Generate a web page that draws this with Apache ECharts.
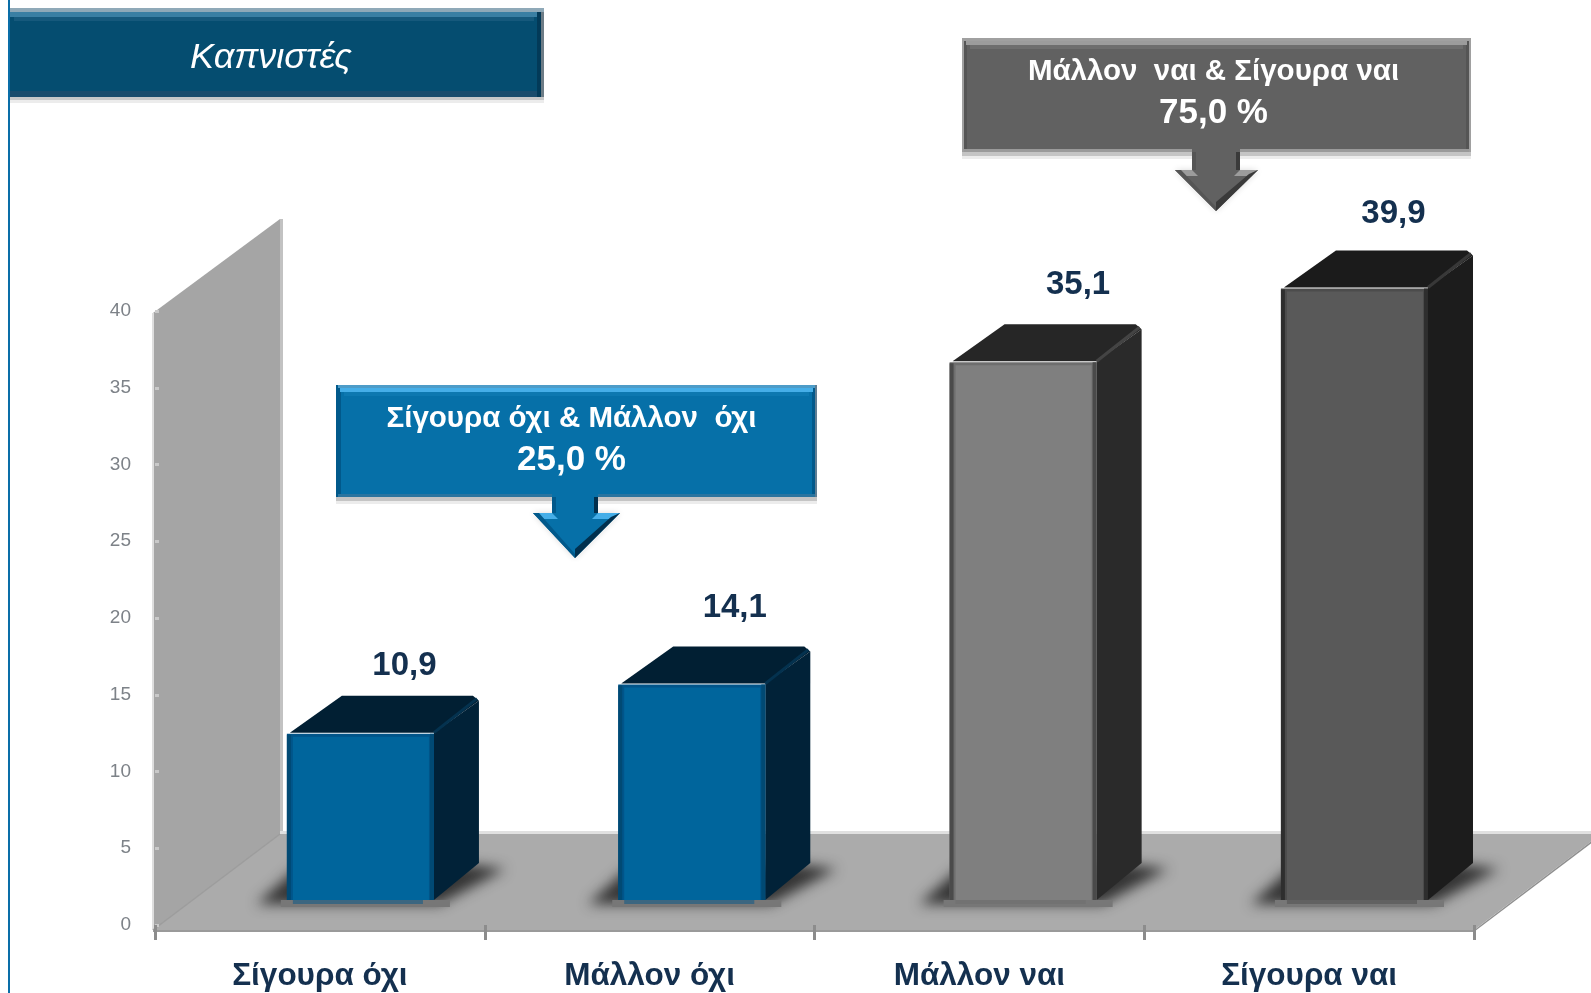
<!DOCTYPE html>
<html>
<head>
<meta charset="utf-8">
<style>html,body{margin:0;padding:0;background:#fff;overflow:hidden}#c{width:1591px;height:993px}</style>
<script src="https://cdn.jsdelivr.net/npm/echarts@6/dist/echarts.min.js"></script>
</head>
<body>
<div id="c"></div>
<script>
const categories = ['Σίγουρα όχι', 'Μάλλον όχι', 'Μάλλον ναι', 'Σίγουρα ναι'];
const values = [10.9, 14.1, 35.1, 39.9];
const yTicks = [0, 5, 10, 15, 20, 25, 30, 35, 40];
const chartTitle = 'Καπνιστές';
const groupLow = ['Σίγουρα όχι & Μάλλον  όχι', '25,0 %'];
const groupHigh = ['Μάλλον  ναι & Σίγουρα ναι', '75,0 %'];

// layout (kept apart from the data)
const labelNudgeX = [44, 43, 55, 39];
const labelNudgeY = [-67, -76, -76, -74];
const faceColors = [
  {front:'#00659c', edge:'#01558a', dark:'#012238', top:'#011f33', line:'#04324f', rim:'#014a74'},
  {front:'#00659c', edge:'#01558a', dark:'#012238', top:'#011f33', line:'#04324f', rim:'#014a74'},
  {front:'#7f7f7f', edge:'#6e6e6e', dark:'#2a2a2a', top:'#262626', line:'#444444', rim:'#4a4a4a'},
  {front:'#595959', edge:'#4c4c4c', dark:'#1c1c1c', top:'#1b1b1b', line:'#383838', rim:'#2e2e2e'}
];
const DX = 45, DY = 37, BASE_LIFT = 25, FAR = 4000, FONT = '"Liberation Sans", Arial, sans-serif';

function poly(points, fill, extra) {
  return {type:'polygon', silent:true, shape:{points}, style:Object.assign({fill}, extra||{})};
}
function rect(x, y, width, height, fill, extra) {
  return {type:'rect', silent:true, shape:{x, y, width, height}, style:Object.assign({fill}, extra||{})};
}

function renderFrame(params) {
  const c = params.coordSys, L = c.x - 2, R = c.x + c.width, T = c.y + 2, B = c.y + c.height + 5;
  const bx = 127, by = 96;
  return {type:'group', children:[
    poly([[L,T],[L+bx,T-by+2],[L+bx,B-by],[L,B]], '#a5a5a5'),
    rect(L-1, T, 2, B-T, '#dedede'),
    rect(L+bx, T-by+2, 3, B-T-4, '#c2c2c2'),
    rect(L+bx, B-by-3, 1600, 3, '#e0e0e0'),
    poly([[L,B],[L+bx,B-by],[R+bx,B-by],[R,B]], '#ababab'),
    rect(L, B, R-L, 2, '#9a9a9a'),
    {type:'line', silent:true, shape:{x1:L,y1:B,x2:L+bx,y2:B-by}, style:{stroke:'#9c9c9c',lineWidth:1.5}},
    {type:'line', silent:true, shape:{x1:R,y1:B+1,x2:R+bx,y2:B-by+1}, style:{stroke:'#8f8f8f',lineWidth:1.5}}
  ]};
}
function barGeom(params, api) {
  const i = api.value(0), v = api.value(1);
  const c = api.coord([i, 0]), t = api.coord([i, v]);
  const w = api.size([1, 0])[0] * 0.446;
  const X = c[0] - 30.6 + (i - 1.5) * 1.6;
  return {i, v, w, X, yb: c[1] - BASE_LIFT, yt: t[1] - BASE_LIFT};
}
function renderShadow(params, api) {
  const g = barGeom(params, api), X = g.X, y = g.yb, w = g.w;
  // only the blurred cast of an off-canvas shape reaches the picture
  const pts = [[X-30,y+4],[X+w+6,y+4],[X+w+DX+26,y-DY+6],[X+w+DX-6,y-DY+2],[X+8,y-30]].map(p => [p[0]-FAR, p[1]]);
  return {type:'group', children:[
    poly(pts, '#000', {shadowBlur:13, shadowOffsetX:FAR, shadowColor:'rgba(45,45,45,0.95)'}),
    rect(X-6, y, w+22, 7, '#777777')
  ]};
}
function renderBar(params, api) {
  const g = barGeom(params, api), X = g.X, w = g.w, yb = g.yb, yt = g.yt, col = faceColors[g.i];
  return {type:'group', children:[
    poly([[X+w,yt],[X+w+DX,yt-DY+5],[X+w+DX,yb-DY],[X+w,yb]], col.dark),
    poly([[X+3,yt],[X+DX+10,yt-DY],[X+w+DX-6,yt-DY],[X+w+DX,yt-DY+5],[X+w,yt]], col.top),
    {type:'line', silent:true, shape:{x1:X+w,y1:yt,x2:X+w+DX-2,y2:yt-DY+3}, style:{stroke:col.line,lineWidth:3}},
    rect(X, yt+1, w, yb-yt-1, col.edge),
    rect(X, yt+2, 4, yb-yt-2, col.rim),
    rect(X+w-4, yt+1, 4, yb-yt-1, col.rim),
    rect(X+6, yt+4, w-11, yb-yt-4, col.front),
    rect(X+6, yb, w-17, 4, col.edge, {opacity:0.5})
  ]};
}
function renderValueLabel(params, api) {
  const g = barGeom(params, api);
  return {type:'text', silent:true, style:{
    text: String(g.v).replace('.', ','),
    x: g.X + g.w/2 + labelNudgeX[g.i],
    y: g.yt + labelNudgeY[g.i],
    font: 'bold 33px ' + FONT, fill:'#14304f', align:'center', verticalAlign:'middle'
  }};
}

function callout(box, arrow, lines, pal) {
  const w = box.x1 - box.x0, h = box.y1 - box.y0, cx = (box.x0 + box.x1)/2 + box.textShift;
  const a = arrow;
  return [
    rect(box.x0, box.y1, w, 4, '#c4c4c4'),
    rect(box.x0, box.y1+4, w, 3, '#ececec'),
    rect(box.x0, box.y0, w, h, pal.border),
    rect(box.x0+5, box.y0+6, w-10, h-9, pal.main),
    rect(box.x0, box.y0, w, 3, pal.rim),
    rect(box.x0+4, box.y0+3, w-8, 4, pal.light),
    rect(box.x0+8, box.y0+7, w-16, 4, pal.soft),
    rect(box.x0, box.y1-3, w, 3, pal.bottom),
    rect(box.x1-2, box.y0, 2, h, pal.side),
    rect(box.x0, box.y0, 2, h, pal.sideL),
    poly([[a.hx0,a.hy],[a.hx1,a.hy],[a.tx,a.ty]], 'rgba(0,0,0,0.3)', {shadowBlur:6, shadowColor:'rgba(0,0,0,0.5)'}),
    poly([[a.sx0,box.y1-8],[a.sx1,box.y1-8],[a.sx1,a.hy],[a.hx1,a.hy],[a.tx,a.ty],[a.hx0,a.hy],[a.sx0,a.hy]], pal.main),
    rect(a.sx0, box.y1, 4, a.hy-box.y1, pal.border),
    rect(a.sx1-4, box.y1, 4, a.hy-box.y1, pal.deep),
    poly([[a.hx0,a.hy],[a.sx0,a.hy],[a.sx0+6,a.hy+6],[a.hx0+11,a.hy+6]], pal.light),
    poly([[a.hx1,a.hy],[a.sx1,a.hy],[a.sx1-6,a.hy+6],[a.hx1-11,a.hy+6]], pal.light),
    poly([[a.hx0,a.hy],[a.tx,a.ty],[a.tx,a.ty-4],[a.hx0+6,a.hy]], pal.border),
    poly([[a.hx1,a.hy],[a.tx,a.ty],[a.tx,a.ty-9],[a.hx1-9,a.hy+4]], pal.deep),
    {type:'text', silent:true, style:{text:lines[0], x:cx, y:box.y0+34, font:'bold 29.5px '+FONT, fill:'#fff', align:'center', verticalAlign:'middle'}},
    {type:'text', silent:true, style:{text:lines[1], x:cx, y:box.y0+75, font:'bold 35px '+FONT, fill:'#fff', align:'center', verticalAlign:'middle'}}
  ];
}

const graphicEls = [
  rect(8, 0, 2, 993, '#0a6ea8'),
  rect(10, 97, 534, 3, '#c8c8c8'),
  rect(10, 100, 534, 3, '#ececec'),
  rect(10, 8, 534, 89, '#054d70'),
  rect(10, 8, 534, 4, '#8fa9b8'),
  rect(10, 12, 527, 5, '#3a7fa3'),
  rect(14, 17, 520, 4, '#16597c'),
  rect(10, 91, 527, 6, '#1a4c6c'),
  rect(537, 12, 4, 85, '#033a58'),
  rect(541, 12, 3, 85, '#6d7c86'),
  {type:'text', silent:true, style:{text:chartTitle, x:271, y:58, font:'italic 36px '+FONT, fill:'#fff', align:'center', verticalAlign:'middle'}}
].concat(
  callout({x0:336,x1:817,y0:385,y1:497,textShift:-5},
    {sx0:552,sx1:598,hy:513,hx0:533,hx1:620,tx:575,ty:558}, groupLow,
    {main:'#0670a8', border:'#01598b', rim:'#4d9cc8', light:'#45aee8', soft:'#0d78b0', bottom:'#2a749f', deep:'#01304e', side:'#5f7e93', sideL:'#01598b'}),
  callout({x0:962,x1:1471,y0:38,y1:152,textShift:-3},
    {sx0:1192,sx1:1240,hy:170,hx0:1175,hx1:1258,tx:1216,ty:211}, groupHigh,
    {main:'#616161', border:'#555555', rim:'#a0a0a0', light:'#9c9c9c', soft:'#6e6e6e', bottom:'#9a9a9a', deep:'#3a3a3a', side:'#a0a0a0', sideL:'#a0a0a0'})
);

const seriesData = values.map((v, i) => [i, v]);
const chart = echarts.init(document.getElementById('c'), null, {renderer:'canvas'});
chart.setOption({
  animation:false,
  backgroundColor:'#fff',
  grid:{left:155, right:117, top:311, bottom:68, containLabel:false},
  xAxis:{type:'category', data:categories, z:10,
    axisLine:{show:false},
    axisTick:{show:true, alignWithLabel:false, length:15, lineStyle:{color:'#8c8c8c', width:3}},
    axisLabel:{margin:35, fontFamily:FONT, fontWeight:'bold', fontSize:31.5, color:'#14304f', interval:0},
    splitLine:{show:false}},
  yAxis:{type:'value', min:yTicks[0], max:yTicks[yTicks.length-1], interval:yTicks[1]-yTicks[0], z:10,
    axisLine:{show:false},
    axisTick:{show:true, inside:true, length:4, lineStyle:{color:'#c9c9c9', width:3}},
    axisLabel:{margin:24, fontFamily:FONT, fontSize:19, color:'#7d8288', padding:[5,0,0,0]},
    splitLine:{show:false}},
  tooltip:{show:false},
  graphic:{elements:graphicEls},
  series:[
    {type:'custom', z:1, clip:false, silent:true, renderItem:renderFrame, data:[[0,0]], encode:{x:0,y:1}},
    {type:'custom', z:2, clip:false, silent:true, renderItem:renderShadow, data:seriesData, encode:{x:0,y:1}},
    {type:'custom', z:3, clip:false, silent:true, renderItem:renderBar, data:seriesData, encode:{x:0,y:1}},
    {type:'custom', z:4, clip:false, silent:true, renderItem:renderValueLabel, data:seriesData, encode:{x:0,y:1}}
  ]
});
</script>
</body>
</html>
